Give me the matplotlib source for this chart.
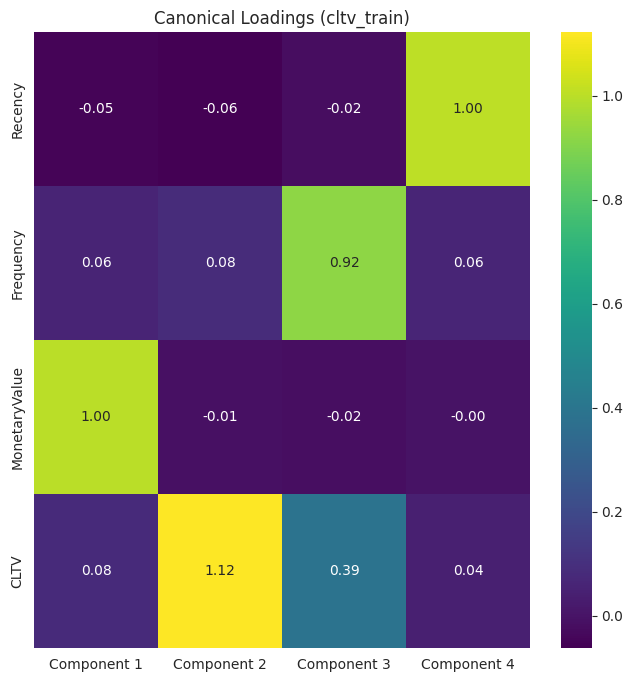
import numpy as np
import pandas as pd
import seaborn as sns
import matplotlib.pyplot as plt

rows = ['Recency', 'Frequency', 'MonetaryValue', 'CLTV']
cols = ['Component 1', 'Component 2', 'Component 3', 'Component 4']
recency = [-0.052, -0.0615, -0.021, 1.002]
frequency = [0.058, 0.082, 0.921, 0.061]
monetary = [1.001, -0.012, -0.018, -0.003]
cltv = [0.078, 1.122, 0.388, 0.041]

loadings = pd.DataFrame([recency, frequency, monetary, cltv], index=rows, columns=cols)

sns.set_style("white")
fig = plt.figure(figsize=(6.33, 6.82), dpi=100)
ax = fig.add_axes([0.0537, 0.0499, 0.784, 0.903])
cax = fig.add_axes([0.886, 0.0499, 0.049, 0.903])
sns.heatmap(loadings, annot=True, fmt='.2f', cmap='viridis', ax=ax, cbar_ax=cax)
ax.set_title('Canonical Loadings (cltv_train)', fontsize=12, color='#262626')
ax.tick_params(length=3.5, color='none', labelcolor='#262626', labelsize=10)
cax.tick_params(length=3.5, width=0.8, colors='#262626', labelsize=10)
for spine in cax.spines.values():
    spine.set_visible(False)

fig.savefig('out.png', dpi=100)
